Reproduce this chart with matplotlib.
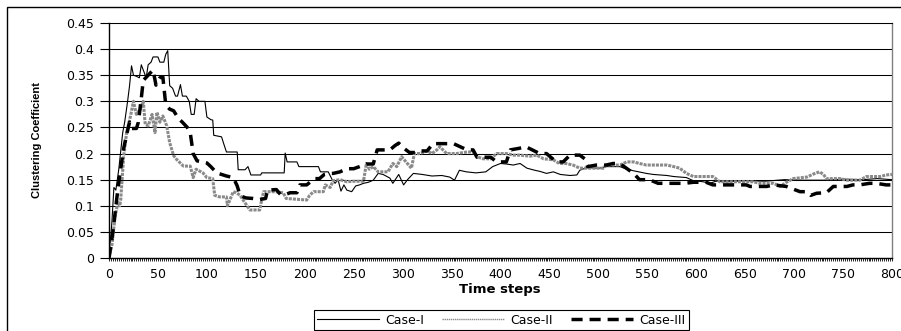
import matplotlib
matplotlib.use('Agg')
import matplotlib.pyplot as plt
from matplotlib.ticker import FixedLocator, MultipleLocator, FormatStrFormatter
from matplotlib.patches import Rectangle
from matplotlib import font_manager

# Case-I: time step and clustering coefficient
t_case1 = [0, 3, 5, 7, 10, 14, 16, 19, 21, 23, 25, 28, 31, 33, 36, 38, 40, 43, 45, 50,
           52, 56, 58, 60, 62, 65, 68, 70, 73, 75, 79, 82, 84, 87, 89, 92, 98, 100, 104, 106,
           107, 115, 117, 120, 131, 132, 139, 142, 145, 155, 156, 179, 180, 182, 192, 194, 214, 216, 224, 228,
           231, 234, 237, 240, 243, 248, 252, 256, 260, 265, 270, 275, 280, 287, 290, 296, 301, 305, 311, 320,
           330, 340, 348, 353, 358, 365, 375, 385, 392, 400, 406, 413, 420, 427, 435, 440, 447, 454, 461, 471,
           478, 481, 488, 501, 508, 522, 529, 536, 549, 556, 570, 577, 590, 597, 607, 614, 620, 631, 650, 670,
           690, 710, 730, 750, 770, 785, 800]
v_case1 = [0, 0.07, 0.135, 0.13, 0.17, 0.24, 0.26, 0.3, 0.33, 0.368, 0.35, 0.348, 0.345, 0.37, 0.355, 0.345, 0.37, 0.375, 0.385, 0.385,
           0.375, 0.375, 0.39, 0.397, 0.33, 0.325, 0.31, 0.31, 0.332, 0.31, 0.31, 0.3, 0.275, 0.275, 0.305, 0.3, 0.3, 0.27, 0.265, 0.264,
           0.235, 0.232, 0.22, 0.203, 0.203, 0.169, 0.169, 0.175, 0.159, 0.159, 0.163, 0.163, 0.201, 0.184, 0.184, 0.175, 0.175, 0.165, 0.165, 0.15,
           0.143, 0.15, 0.128, 0.14, 0.13, 0.127, 0.138, 0.14, 0.143, 0.145, 0.149, 0.162, 0.16, 0.153, 0.143, 0.16, 0.14, 0.15, 0.162, 0.16,
           0.157, 0.158, 0.155, 0.149, 0.168, 0.165, 0.163, 0.165, 0.175, 0.181, 0.18, 0.178, 0.181, 0.172, 0.168, 0.166, 0.162, 0.165, 0.16, 0.158,
           0.159, 0.168, 0.173, 0.172, 0.175, 0.175, 0.17, 0.167, 0.162, 0.16, 0.158, 0.156, 0.154, 0.148, 0.146, 0.143, 0.147, 0.146, 0.148, 0.147,
           0.15, 0.149, 0.149, 0.151, 0.15, 0.152, 0.15]

# Case-II
t_case2 = [0, 3, 6, 9, 11, 12, 15, 18, 22, 25, 28, 32, 35, 37, 40, 44, 47, 49, 52, 55,
           59, 62, 66, 69, 76, 83, 86, 89, 96, 100, 106, 108, 113, 120, 121, 127, 130, 134, 137, 141,
           144, 154, 156, 158, 168, 178, 181, 195, 202, 205, 209, 219, 221, 226, 229, 236, 243, 250, 260, 263,
           266, 270, 275, 285, 290, 294, 299, 303, 309, 312, 318, 325, 330, 335, 338, 345, 355, 366, 372, 376,
           382, 390, 396, 406, 413, 420, 430, 437, 444, 454, 460, 467, 474, 481, 505, 508, 522, 529, 536, 542,
           549, 563, 570, 577, 583, 590, 597, 607, 617, 624, 638, 645, 658, 665, 679, 686, 692, 699, 713, 720,
           726, 730, 733, 747, 754, 767, 774, 788, 794, 800]
v_case2 = [0, 0.025, 0.076, 0.107, 0.1, 0.112, 0.195, 0.24, 0.272, 0.3, 0.275, 0.285, 0.3, 0.256, 0.253, 0.275, 0.24, 0.279, 0.26, 0.272,
           0.253, 0.221, 0.196, 0.189, 0.176, 0.176, 0.154, 0.17, 0.163, 0.154, 0.152, 0.12, 0.117, 0.117, 0.1, 0.127, 0.125, 0.12, 0.111, 0.1,
           0.092, 0.092, 0.111, 0.127, 0.127, 0.125, 0.114, 0.112, 0.111, 0.12, 0.127, 0.127, 0.14, 0.135, 0.148, 0.15, 0.146, 0.147, 0.147, 0.181,
           0.17, 0.175, 0.165, 0.165, 0.181, 0.175, 0.194, 0.185, 0.172, 0.2, 0.2, 0.205, 0.2, 0.207, 0.213, 0.2, 0.2, 0.203, 0.203, 0.194,
           0.19, 0.19, 0.2, 0.2, 0.197, 0.197, 0.195, 0.197, 0.19, 0.188, 0.181, 0.181, 0.178, 0.172, 0.172, 0.178, 0.178, 0.184, 0.184, 0.181,
           0.178, 0.178, 0.178, 0.175, 0.172, 0.162, 0.156, 0.156, 0.156, 0.146, 0.146, 0.146, 0.146, 0.143, 0.143, 0.137, 0.145, 0.152, 0.155, 0.161,
           0.165, 0.16, 0.152, 0.152, 0.149, 0.149, 0.156, 0.156, 0.159, 0.16]

# Case-III
t_case3 = [0, 4, 8, 11, 15, 18, 21, 23, 28, 30, 33, 35, 40, 45, 48, 52, 55, 58, 62, 66,
           71, 75, 80, 83, 86, 90, 96, 100, 104, 110, 120, 127, 131, 134, 140, 147, 154, 160, 162, 171,
           175, 181, 185, 192, 195, 202, 210, 215, 220, 226, 229, 236, 243, 250, 256, 263, 270, 274, 287, 292,
           296, 300, 307, 314, 318, 325, 331, 338, 345, 352, 360, 366, 372, 376, 390, 396, 406, 410, 419, 426,
           440, 447, 457, 464, 471, 481, 486, 489, 498, 508, 515, 522, 530, 536, 542, 552, 561, 570, 578, 588,
           597, 604, 610, 617, 631, 638, 651, 655, 672, 679, 692, 706, 713, 717, 723, 733, 740, 754, 760, 767,
           777, 784, 794, 800]
v_case3 = [0, 0.05, 0.115, 0.159, 0.21, 0.236, 0.26, 0.248, 0.248, 0.26, 0.306, 0.34, 0.35, 0.36, 0.331, 0.345, 0.347, 0.293, 0.285, 0.282,
           0.267, 0.26, 0.25, 0.24, 0.2, 0.186, 0.184, 0.182, 0.175, 0.163, 0.157, 0.154, 0.138, 0.119, 0.115, 0.114, 0.112, 0.114, 0.13, 0.131,
           0.122, 0.122, 0.125, 0.125, 0.14, 0.14, 0.152, 0.152, 0.16, 0.162, 0.162, 0.165, 0.171, 0.171, 0.175, 0.18, 0.18, 0.207, 0.207, 0.215,
           0.22, 0.212, 0.202, 0.202, 0.205, 0.205, 0.219, 0.219, 0.219, 0.219, 0.212, 0.207, 0.207, 0.193, 0.193, 0.184, 0.184, 0.207, 0.21, 0.213,
           0.2, 0.2, 0.184, 0.184, 0.197, 0.197, 0.19, 0.175, 0.178, 0.178, 0.181, 0.181, 0.17, 0.162, 0.15, 0.15, 0.143, 0.143, 0.143, 0.143,
           0.145, 0.145, 0.145, 0.14, 0.14, 0.14, 0.14, 0.137, 0.137, 0.14, 0.137, 0.127, 0.127, 0.12, 0.124, 0.125, 0.137, 0.137, 0.14, 0.14,
           0.143, 0.143, 0.14, 0.14]

y_ticks = [0, 0.05, 0.1, 0.15, 0.2, 0.25, 0.3, 0.35, 0.4, 0.45]
x_ticks = list(range(0, 801, 50))

W, H = 901, 331
fig = plt.figure(figsize=(W / 100, H / 100), dpi=100)
ax = fig.add_axes([109 / W, (H - 258) / H, (892 - 109) / W, (258 - 23) / H])

base = 'DejaVu Sans'
narrow = [f for f in ['Liberation Sans Narrow', 'Liberation Sans'] if any(
    e.name == f for e in font_manager.fontManager.ttflist)]

ax.plot(t_case1, v_case1, color='black', lw=0.8, label='Case-I', zorder=3)
ax.plot(t_case2, v_case2, color='#8a8a8a', lw=2.2, ls=(0, (1, 0.35)), label='Case-II', zorder=4)
ax.plot(t_case3, v_case3, color='black', lw=2.5, ls=(0, (3.2, 2)), label='Case-III', zorder=5)

ax.set_xlim(0, 800)
ax.set_ylim(0, 0.45)
ax.yaxis.set_major_locator(FixedLocator(y_ticks))
ax.yaxis.set_major_formatter(FormatStrFormatter('%g'))
ax.xaxis.set_major_locator(FixedLocator(x_ticks))
ax.xaxis.set_minor_locator(MultipleLocator(2))
ax.grid(axis='y', color='black', lw=0.75)
ax.set_axisbelow(True)

ax.tick_params(axis='y', direction='out', length=6.5, width=0.8, pad=4, labelsize=9)
ax.tick_params(axis='x', which='major', direction='out', length=2.5, width=0.6, pad=4.5, labelsize=9)
ax.tick_params(axis='x', which='minor', direction='out', length=2.5, width=0.6)
for lab in ax.get_xticklabels() + ax.get_yticklabels():
    lab.set_family(base)

for s in ['left', 'bottom']:
    ax.spines[s].set_color('black')
    ax.spines[s].set_linewidth(1.0)
ax.spines['top'].set_color('black')
ax.spines['top'].set_linewidth(0.75)
ax.spines['right'].set_color('#808080')
ax.spines['right'].set_linewidth(1.0)

fig.text(37 / W, 1 - 140 / H, 'Clustering Coefficient', rotation=90, ha='center', va='center',
         fontsize=8, fontweight='bold', family=narrow or [base])
fig.text(500 / W, 1 - 290 / H, 'Time steps', ha='center', va='center',
         fontsize=9.5, fontweight='bold', family=base)

leg = fig.legend(loc='center', bbox_to_anchor=(501 / W, 1 - 320 / H), ncol=3, frameon=True,
                 fancybox=False, edgecolor='black', framealpha=1, prop={'family': base, 'size': 9},
                 handlelength=5.0, handletextpad=0.5, columnspacing=1.4, borderpad=0.25, borderaxespad=0)
leg.get_frame().set_linewidth(0.8)
leg.get_lines()[1].set_linewidth(1.0)
leg.get_lines()[1].set_linestyle((0, (1, 0.5)))

# outer chart frame, partly cut off at the right and bottom
fig.patches.append(Rectangle((7 / W, -0.2), 1.2, 1.2 - 7 / H, transform=fig.transFigure,
                             fill=False, edgecolor='black', lw=1.0, clip_on=False))

plt.savefig('out.png', dpi=100)
